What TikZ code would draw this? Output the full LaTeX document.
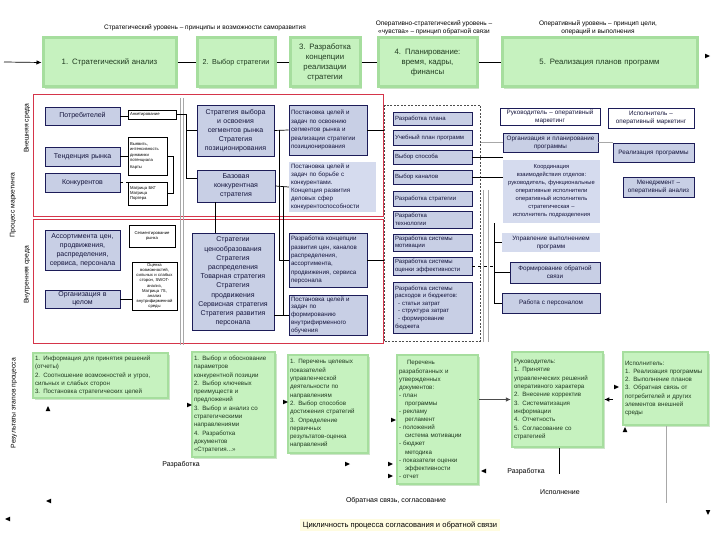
\documentclass[tikz,border=0pt]{standalone}
\usepackage{fontspec}
\setmainfont{Liberation Sans}
\usetikzlibrary{arrows.meta,shadows}
\definecolor{gfill}{HTML}{C6F2BF}
\definecolor{gedge}{HTML}{A6DE9E}
\definecolor{gshad}{HTML}{9CCB95}
\definecolor{gtext}{HTML}{203A20}
\definecolor{bfill}{HTML}{C8CFE5}
\definecolor{lfill}{HTML}{D5DBEE}
\definecolor{bedge}{HTML}{1C1C58}
\definecolor{btext}{HTML}{14143C}
\definecolor{redl}{HTML}{D5354A}
\definecolor{cream}{HTML}{FFFCE0}
\definecolor{gline}{HTML}{A8A8A8}
\newcommand\FS[2]{\fontsize{#1}{#2}\selectfont}
\newcommand\BX[7]{%
 \pgfmathsetmacro\bxw{#4-#2}\pgfmathsetmacro\bxh{#5-#3}\pgfmathsetmacro\bxt{#4-#2-4}%
 \node[#6, minimum width=\bxw pt, minimum height=\bxh pt, text width=\bxt pt] (#1) at ({(#2+#4)/2},{(#3+#5)/2}) {#7};}
\newcommand\AH[3]{\fill[shift={(#1,#2)}, rotate=#3] (0,0) -- (-5,2.3) -- (-5,-2.3) -- cycle;}
\tikzset{
 base/.style={inner xsep=2pt, inner ysep=1pt},
 gtop/.style={base, fill=gfill, draw=gedge, line width=3pt, align=center, font=\FS{7.8}{10}, text=gtext,
   drop shadow={shadow xshift=2pt, shadow yshift=-2pt, fill=gshad, opacity=0.5}},
 gbot/.style={base, fill=gfill, draw=gedge, line width=2.5pt, align=left, font=\FS{6.2}{8.3}, text=gtext,
   drop shadow={shadow xshift=2pt, shadow yshift=-2pt, fill=gshad, opacity=0.5}},
 bbox/.style={base, fill=bfill, draw=bedge, line width=0.8pt, align=center, font=\FS{7}{9}, text=btext},
 lbox/.style={base, fill=lfill, draw=none, align=center, font=\FS{6.3}{8}, text=btext},
 sbox/.style={base, fill=bfill, draw=bedge, line width=0.8pt, align=center, font=\FS{6.3}{8}, text=btext},
 cbox/.style={base, fill=bfill, draw=bedge, line width=0.8pt, align=left, font=\FS{6}{7.6}, text=btext},
 wbox/.style={base, fill=white, draw=bedge, line width=0.6pt, align=center, font=\FS{6.3}{8}, text=btext},
 tinyt/.style={base, inner xsep=1pt, fill=white, draw=black, line width=0.5pt, align=left, font=\FS{4.2}{5.2}},
 hdr/.style={align=center, font=\FS{6.5}{8.5}, inner sep=1pt},
 lab/.style={font=\FS{7}{8}, inner sep=1pt},
 side/.style={rotate=90, font=\FS{6.8}{8}, inner sep=1pt},
 dframe/.style={draw=black!70, dash pattern=on 2pt off 1.5pt, line width=0.6pt, fill=none},
 conn/.style={draw=black, line width=0.7pt},
 gconn/.style={draw=gline, line width=0.6pt},
}
\begin{document}
\begin{tikzpicture}[x=1pt,y=-1pt]
\useasboundingbox (0,0) rectangle (720,540);
\fill[white] (0,0) rectangle (720,540);

% headers
\node[hdr] (h1) at (205,28) {Стратегический уровень – принципы и возможности саморазвития};
\node[hdr] (h2) at (434,28) {Оперативно-стратегический уровень –\\ «чувства» – принцип обратной связи};
\node[hdr] (h3) at (598,28) {Оперативный уровень – принцип цели,\\ операций и выполнения};

% top process row
\BX{s1}{43}{38}{176}{87}{gtop}{1. Стратегический анализ}
\BX{s2}{197}{38}{275}{87}{gtop,font=\FS{7.2}{10},inner xsep=0pt}{2. Выбор стратегии}
\BX{s3}{290}{38}{360}{87}{gtop}{3. Разработка\\концепции\\реализации\\стратегии}
\BX{s4}{378}{38}{477}{87}{gtop}{4. Планирование:\\время, кадры,\\финансы}
\BX{s5}{502}{38}{697}{87}{gtop}{5. Реализация планов программ}
\coordinate (st) at (4,62);
\draw[conn,-{Latex[length=5pt,width=4.5pt]}] (st) -- (s1.west);
\draw[conn] (s1.east) -- (s2.west);
\draw[conn] (s2.east) -- (s3.west);
\draw[conn] (s3.east) -- (s4.west);
\draw[conn] (s4.east) -- (s5.west);
\AH{710}{56}{0}

% red frames
\draw[redl, line width=1pt] (33,95) rectangle (383,217);
\draw[redl, line width=1pt] (33,220) rectangle (383,343);

% side labels
\node[side] (sl1) at (27,128) {Внешняя среда};
\node[side] (sl2) at (13,205) {Процесс маркетинга};
\node[side] (sl3) at (27,275) {Внутренняя среда};
\node[side] (sl4) at (14,403) {Результаты этапов процесса};

% gray background lines
\coordinate (ga) at (180,98);  \coordinate (gb) at (180,345);
\coordinate (gc) at (183,98);  \coordinate (gd) at (183,345);
\draw[gconn] (ga) -- (gb);
\draw[gconn] (gc) -- (gd);
\coordinate (ge) at (483,190); \coordinate (gf) at (483,342);
\coordinate (gg) at (488,190); \coordinate (gh) at (488,342);
\draw[gconn] (ge) -- (gf);
\draw[gconn] (gg) -- (gh);

% external environment
\BX{potr}{45}{107}{120}{125}{bbox}{Потребителей}
\BX{tend}{45}{147}{120}{166}{bbox}{Тенденция рынка}
\BX{konk}{45}{173}{120}{192}{bbox}{Конкурентов}
\BX{ank}{128}{110}{176}{119}{tinyt}{Анкетирование}
\BX{prog}{128}{137}{167}{175}{tinyt}{Выявить,\\интенсивность\\динамики\\потенциала\\[2pt]Карты}
\BX{matr}{128}{182}{167}{205}{tinyt}{Матрица БКГ\\Матрица\\Портера}
\BX{strv}{197}{105}{274}{156}{bbox}{Стратегия выбора и освоения сегментов рынка\\Стратегия позиционирования}
\BX{baz}{197}{170}{275}{202}{bbox}{Базовая\\конкурентная\\стратегия}
\BX{post1}{289}{105}{367}{155}{cbox,font=\FS{6.2}{8.5}}{Постановка целей и\\задач по освоению\\сегментов рынка и\\реализации стратегии\\позиционирования}
\BX{post2}{289}{162}{376}{212}{lbox,align=left,font=\FS{6.2}{8}}{Постановка целей и\\задач по борьбе с\\конкурентами.\\Концепция развития\\деловых сфер\\конкурентоспособности}

\draw[conn] (potr.east) -- (potr.east -| ank.west);
\draw[conn] (tend.east) -- (tend.east -| prog.west);
\draw[conn, dashed] (konk.east) -- (konk.east -| matr.west);
\coordinate (k1) at (173,0);
\draw[conn] (prog.east) -- (prog.east -| k1) -- (matr.east -| k1) -- (matr.east);
\coordinate (jx) at (186,0);
\coordinate (jb) at (0,178);
\draw[conn] (ank.east) -- (ank.east -| jx) -- (jx |- jb) -- (jb -| baz.west);
\draw[conn] (strv.west -| jx) -- (strv.west);
\draw[conn] (strv.east) -- (post1.west);
\draw[conn] (baz.east) -- (post2.west);
\coordinate (m1) at (279,0);
\coordinate (m2) at (283,0);

% column 4
\BX{cfr}{386}{105}{479}{341}{dframe}{}
\BX{c1}{393}{112}{472}{125}{cbox}{Разработка плана}
\BX{c2}{393}{130}{472}{145}{cbox}{Учебный план программ}
\BX{c3}{393}{150}{472}{164}{cbox}{Выбор способа}
\BX{c4}{393}{170}{472}{184}{cbox}{Выбор каналов}
\BX{c5}{393}{191}{472}{206}{cbox}{Разработка стратегии}
\BX{c6}{393}{211}{472}{228}{cbox}{Разработка\\технологии}
\BX{c7}{393}{234}{472}{251}{cbox}{Разработка системы\\мотивации}
\BX{c8}{393}{257}{472}{275}{cbox}{Разработка системы\\оценки эффективности}
\BX{c9}{393}{282}{472}{333}{cbox}{Разработка системы\\расходов и бюджетов:\\\hspace*{3pt}- статьи затрат\\\hspace*{3pt}- структура затрат\\\hspace*{3pt}- формирование\\бюджета}
\draw[conn] (post1.east) -- (post1.east -| cfr.west);

% column 5
\BX{ruk}{500}{108}{600}{125}{wbox}{Руководитель – оперативный\\маркетинг}
\BX{org}{503}{133}{598}{152}{sbox}{Организация и планирование\\программы}
\BX{koord}{503}{160}{600}{223}{lbox,font=\FS{5.8}{8},inner xsep=1pt}{Координация\\взаимодействия отделов:\\руководитель, функциональные\\оперативные исполнители\\оперативный исполнитель\\стратегическая –\\исполнитель подразделения}
\BX{upr}{502}{233}{600}{252}{lbox}{Управление выполнением\\программ}
\BX{form}{510}{262}{600}{283}{sbox}{Формирование обратной\\связи}
\BX{rab}{502}{293}{600}{313}{sbox}{Работа с персоналом}
\BX{isp}{608}{108}{694}{128}{wbox}{Исполнитель –\\оперативный маркетинг}
\BX{real}{613}{143}{694}{162}{sbox}{Реализация программы}
\BX{men}{623}{177}{694}{197}{sbox}{Менеджмент –\\оперативный анализ}

\draw[conn] (c3.east) -- (c3.east -| koord.west);
\draw[conn] (c4.east) -- (c4.east -| koord.west);
\draw[gconn] (cfr.east |- org.west) -- (org.west);
\draw[gconn] (org.east) -- (org.east -| real.west);
\coordinate (n1) at (494,0);
\draw[conn, line width=0.6pt] (koord.south -| n1) -- (rab.west -| n1) -- (rab.west);
\draw[conn, line width=0.6pt] (upr.west -| n1) -- (upr.west);
\draw[conn, line width=0.6pt] (form.west -| n1) -- (form.west);
\draw[conn, dashed, line width=0.6pt] (c8.east) -- (c8.east -| n1);

% internal environment
\BX{ass}{45}{230}{120}{270}{bbox}{Ассортимента цен,\\продвижения,\\распределения,\\сервиса, персонала}
\BX{orgc}{45}{290}{120}{308}{bbox,font=\FS{7}{8}}{Организация в\\целом}
\BX{segm}{129}{225}{175}{247}{tinyt,align=center}{Сегментирование\\рынка}
\BX{ocen}{132}{262}{177}{310}{tinyt,align=center}{Оценка возможностей,\\сильных и слабых\\сторон, SWOT-анализ,\\Матрица 7S,\\анализ\\внутрифирменной\\среды}
\BX{strs}{192}{233}{274}{330}{bbox,font=\FS{7}{9.2}}{Стратегии\\ценообразования\\Стратегия\\распределения\\Товарная стратегия\\Стратегия\\продвижения\\Сервисная стратегия\\Стратегия развития\\персонала}
\BX{razk}{289}{233}{367}{287}{cbox,font=\FS{6.2}{8.3}}{Разработка концепции\\развития цен, каналов\\распределения,\\ассортимента,\\продвижения, сервиса\\персонала}
\BX{post3}{289}{295}{367}{335}{cbox,font=\FS{6.2}{7.8}}{Постановка целей и\\задач по\\формированию\\внутрифирменного\\обучения}

\draw[conn] (orgc.east) -- (orgc.east -| ocen.west);
\coordinate (v1) at (215,0);
\draw[conn] (baz.south -| v1) -- (strs.north -| v1);
\draw[conn] (strv.east -| m1) -- (razk.west -| m1) -- (razk.west);
\draw[conn] (post2.west -| m2) -- (post3.west -| m2);
\draw[conn] (post3.west -| strs.east) -- (post3.west);
\draw[conn] (razk.east) -- (razk.east -| cfr.west);

% results row
\BX{ra}{33}{353}{168}{398}{gbot}{1. Информация для принятия решений\\(отчеты)\\2. Соотношение возможностей и угроз,\\сильных и слабых сторон\\3. Постановка стратегических целей}
\BX{rb}{192}{352}{275}{457}{gbot}{1. Выбор и обоснование\\параметров\\конкурентной позиции\\2. Выбор ключевых\\преимуществ и\\предложений\\3. Выбор и анализ со\\стратегическими\\направлениями\\4. Разработка\\документов\\«Стратегия...»}
\BX{rc}{288}{355}{368}{453}{gbot}{1. Перечень целевых\\показателей\\управленческой\\деятельности по\\направлениям\\2. Выбор способов\\достижения стратегий\\3. Определение\\первичных\\результатов-оценка\\направлений}
\BX{rd}{397}{355}{478}{484}{gbot,font=\FS{6.2}{8.1}}{\hspace*{8pt}Перечень\\разработанных и\\утвержденных\\документов:\\- план\\\hspace*{6pt}программы\\- рекламу\\\hspace*{6pt}регламент\\- положений\\\hspace*{6pt}система мотивации\\- бюджет\\\hspace*{6pt}методика\\- показатели оценки\\\hspace*{6pt}эффективности\\- отчет}
\BX{re}{512}{352}{603}{447}{gbot}{Руководитель:\\1. Принятие\\управленческих решений\\оперативного характера\\2. Внесение корректив\\3. Систематизация\\информации\\4. Отчетность\\5. Согласование со\\стратегией}
\BX{rf}{623}{352}{708}{425}{gbot}{Исполнитель:\\1. Реализация программы\\2. Выполнение планов\\3. Обратная связь от\\потребителей и других\\элементов внешней\\среды}

\draw[gconn, -{Latex[length=5pt,width=4.5pt]}, draw=black!70] (re.west -| rd.east) -- (re.west);
\coordinate (fe) at (613,0);
\draw[conn, -{Latex[length=5pt,width=4.5pt]}] (re.east -| fe) -- (re.east);
\coordinate (e1) at (559,474);
\draw[conn] (re.south -| e1) -- (e1);
\coordinate (f1) at (666,503);
\draw[gconn] (rf.south -| f1) -- (f1);

% loose arrowheads
\AH{48}{406}{90}
\AH{192}{405}{0}
\AH{288}{402}{0}
\AH{350}{464}{0}
\AH{396}{420}{0}
\AH{393}{464}{0}
\AH{393}{476}{0}
\AH{481}{471}{180}
\AH{619}{387}{0}
\AH{625}{427}{90}
\AH{46}{501}{180}
\AH{5}{519}{180}
\AH{708}{515}{270}

% labels
\node[lab] (l1) at (181,465) {Разработка};
\node[lab] (l2) at (526,472) {Разработка};
\node[lab] (l3) at (560,492) {Исполнение};
\node[lab] (l4) at (396,501) {Обратная связь, согласование};
\node[lab, fill=cream, font=\FS{7.6}{9}, inner sep=2.5pt] (l5) at (400,525) {Цикличность процесса согласования и обратной связи};
\end{tikzpicture}
\end{document}
